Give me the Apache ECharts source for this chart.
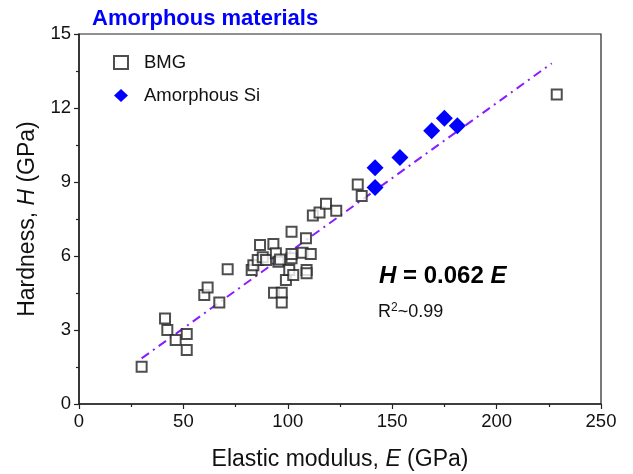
<!DOCTYPE html>
<html>
<head>
<meta charset="utf-8">
<script src="https://cdn.jsdelivr.net/npm/echarts@6/dist/echarts.min.js"></script>
<style>
  html, body { margin: 0; padding: 0; background: #fff; }
  #main { width: 633px; height: 474px; }
</style>
</head>
<body>
<div id="main"></div>
<script>
// data: [E (GPa), H (GPa)]
var bmgData = [
  [30.0, 1.51], [41.2, 3.47], [42.3, 3.0], [46.3, 2.59], [51.6, 2.84], [51.6, 2.19],
  [60.0, 4.42], [61.6, 4.72], [67.2, 4.11], [71.2, 5.46], [82.7, 5.43], [83.5, 5.63],
  [85.6, 5.84], [86.7, 6.45], [88.0, 5.95], [89.6, 5.84], [93.1, 6.49], [94.3, 6.11],
  [95.5, 5.77], [96.3, 5.86], [93.4, 4.51], [97.1, 4.51], [97.1, 4.11], [99.1, 5.03],
  [100.7, 5.43], [102.6, 5.23], [101.8, 5.91], [101.8, 6.08], [101.8, 6.98], [107.1, 6.13],
  [108.7, 6.72], [109.0, 5.43], [109.0, 5.3], [111.0, 6.08], [112.0, 7.64], [115.2, 7.76],
  [118.3, 8.12], [123.2, 7.83], [133.5, 8.9], [135.4, 8.43], [228.8, 12.55]
]
var siData = [
  [141.8, 9.58], [141.8, 8.78], [153.7, 9.99], [168.9, 11.08], [175.0, 11.58], [181.2, 11.28]
]
// fit line end points, H = 0.062 E
var fitLine = [[30.0, 1.85], [226.4, 13.81]]
var xTicks = [0, 50, 100, 150, 200, 250]
var yTicks = [0, 3, 6, 9, 12, 15]

var font = 'Liberation Sans, Arial, sans-serif'
var chart = echarts.init(document.getElementById('main'), null, { renderer: 'canvas' })

chart.setOption({
  backgroundColor: '#fff',
  animation: false,
  title: {
    text: 'Amorphous materials',
    left: 87,
    top: 3,
    textStyle: { color: '#0000ff', fontFamily: font, fontSize: 22, fontWeight: 'bold' }
  },
  legend: {
    orient: 'vertical',
    left: 108,
    top: 48,
    itemGap: 14,
    itemWidth: 14,
    itemHeight: 13,
    textStyle: { fontFamily: font, fontSize: 18.5, color: '#111', padding: [0, 0, 0, 11] },
    data: ['BMG', 'Amorphous Si']
  },
  grid: {
    left: 79, right: 32, top: 34, bottom: 70,
    outerBoundsMode: 'none',
    containLabel: false,
    show: true, borderColor: '#222', borderWidth: 1.2, backgroundColor: 'transparent'
  },
  xAxis: {
    type: 'value',
    min: xTicks[0],
    max: xTicks[xTicks.length - 1],
    interval: 50,
    name: '{n|Elastic modulus, }{i|E}{n| (GPa)}',
    nameLocation: 'middle',
    nameGap: 44,
    nameTextStyle: {
      rich: {
        n: { fontFamily: font, fontSize: 23, color: '#111' },
        i: { fontFamily: font, fontSize: 23, color: '#111', fontStyle: 'italic' }
      }
    },
    axisLine: { onZero: false, lineStyle: { color: '#222', width: 1.5 } },
    axisTick: { length: 5, lineStyle: { color: '#222', width: 1.2 } },
    minorTick: { show: true, splitNumber: 2, length: 3, lineStyle: { color: '#222', width: 1.2 } },
    axisLabel: { fontFamily: font, fontSize: 18.5, color: '#111', margin: 8 },
    splitLine: { show: false }
  },
  yAxis: {
    type: 'value',
    min: yTicks[0],
    max: yTicks[yTicks.length - 1],
    interval: 3,
    name: '{n|Hardness, }{i|H}{n| (GPa)}',
    nameLocation: 'middle',
    nameGap: 40,
    nameTextStyle: {
      rich: {
        n: { fontFamily: font, fontSize: 23, color: '#111' },
        i: { fontFamily: font, fontSize: 23, color: '#111', fontStyle: 'italic' }
      }
    },
    axisLine: { onZero: false, lineStyle: { color: '#222', width: 1.5 } },
    axisTick: { length: 5, lineStyle: { color: '#222', width: 1.2 } },
    minorTick: { show: true, splitNumber: 2, length: 3, lineStyle: { color: '#222', width: 1.2 } },
    axisLabel: { fontFamily: font, fontSize: 18.5, color: '#111', margin: 8 },
    splitLine: { show: false }
  },
  graphic: [
    {
      type: 'text',
      left: 379,
      top: 264,
      style: {
        text: '{i|H}{b| = 0.062 }{i|E}',
        rich: {
          b: { fontFamily: font, fontSize: 24, fontWeight: 'bold', fill: '#000' },
          i: { fontFamily: font, fontSize: 24, fontWeight: 'bold', fontStyle: 'italic', fill: '#000' }
        }
      }
    },
    {
      type: 'text',
      left: 378,
      top: 302,
      style: {
        text: '{n|R}{s|2}{n|~0.99}',
        rich: {
          n: { fontFamily: font, fontSize: 18, fill: '#111' },
          s: { fontFamily: font, fontSize: 12, fill: '#111', verticalAlign: 'top', padding: [0, 0, 8, 0] }
        }
      }
    }
  ],
  series: [
    {
      name: 'fit',
      type: 'line',
      data: fitLine,
      showSymbol: false,
      symbol: 'none',
      lineStyle: { color: '#8a1cff', width: 2, type: [9, 5, 2, 5] },
      z: 1
    },
    {
      name: 'BMG',
      type: 'scatter',
      data: bmgData,
      symbol: 'rect',
      symbolSize: 10,
      itemStyle: { color: '#fff', borderColor: '#222', borderWidth: 2 },
      z: 3
    },
    {
      name: 'Amorphous Si',
      type: 'scatter',
      data: siData,
      symbol: 'diamond',
      symbolSize: 17,
      itemStyle: { color: '#0000ff', opacity: 1 },
      z: 4
    }
  ]
})
</script>
</body>
</html>
